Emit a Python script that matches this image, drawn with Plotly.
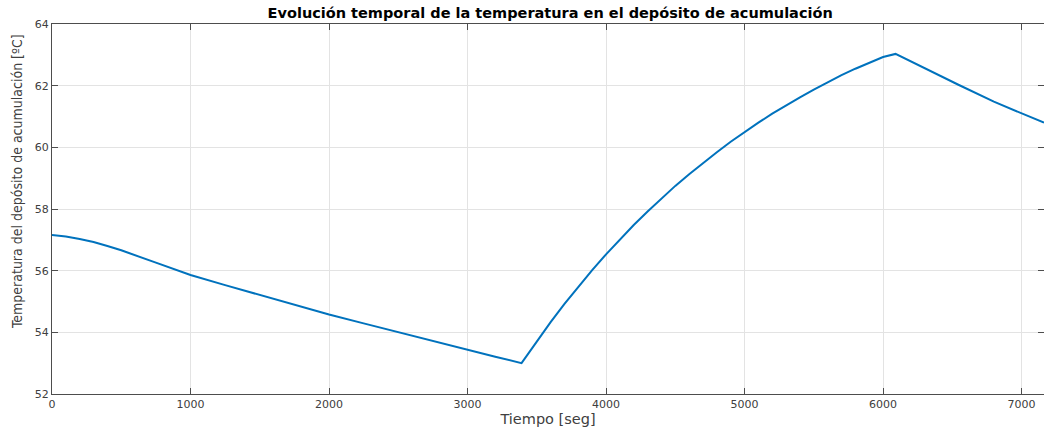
import plotly.graph_objects as go

# Tank temperature over time: cooling, heating, cooling again
tiempo = [0, 100, 200, 300, 400, 500, 750, 1000, 1250, 1500, 1750, 2000, 2250, 2500,
          2750, 3000, 3200, 3390,
          3500, 3600, 3700, 3800, 3900, 4000, 4100, 4200, 4300, 4400, 4500,
          4600, 4700, 4800, 4900, 5000, 5100, 5200, 5300, 5400, 5500, 5600,
          5700, 5800, 5900, 6000, 6090,
          6300, 6544, 6800, 7000, 7162]
temperatura = [57.16, 57.11, 57.03, 56.93, 56.80, 56.66, 56.26, 55.86, 55.53, 55.21,
               54.89, 54.58, 54.29, 54.00, 53.71, 53.43, 53.21, 53.00,
               53.71, 54.33, 54.92, 55.48, 56.02, 56.53, 57.02, 57.48, 57.92, 58.35,
               58.75, 59.13, 59.50, 59.84, 60.18, 60.50, 60.80, 61.09, 61.36, 61.62,
               61.87, 62.11, 62.34, 62.55, 62.75, 62.93, 63.03,
               62.56, 62.03, 61.48, 61.10, 60.80]

x_ticks = [0, 1000, 2000, 3000, 4000, 5000, 6000, 7000]
y_ticks = [52, 54, 56, 58, 60, 62, 64]
x_range = [0, 7162]
y_range = [52, 64]

titulo = "Evolución temporal de la temperatura en el depósito de acumulación"
etiqueta_x = "Tiempo [seg]"
etiqueta_y = "Temperatura del depósito de acumulación [ºC]"

axis_color = "#4d4d4d"
grid_color = "#e3e3e3"
label_color = "#404040"

fig = go.Figure()
fig.add_trace(go.Scatter(
    x=tiempo, y=temperatura, mode="lines",
    line=dict(color="#0072BD", width=2),
    showlegend=False, hoverinfo="x+y",
))
# invisible trace to carry the right-hand tick marks
fig.add_trace(go.Scatter(x=[x_range[0]], y=[y_range[0]], yaxis="y2",
                         mode="markers", marker=dict(opacity=0),
                         showlegend=False, hoverinfo="skip"))

fig.update_layout(
    width=1044, height=432,
    margin=dict(l=52, r=0, t=24, b=38),
    paper_bgcolor="white", plot_bgcolor="white",
    title=dict(text="<b>" + titulo + "</b>", x=0.527, xanchor="center",
               y=0.97, yanchor="middle",
               font=dict(family="DejaVu Sans", size=14.5, color="#000000")),
    xaxis=dict(
        range=x_range, tickvals=x_ticks, ticktext=[str(v) for v in x_ticks],
        showgrid=True, gridcolor=grid_color, gridwidth=1,
        showline=True, linecolor=axis_color, linewidth=1, mirror="ticks",
        ticks="inside", ticklen=6, tickcolor=axis_color, zeroline=False,
        tickfont=dict(family="DejaVu Sans", size=11, color=label_color),
        title=dict(text=etiqueta_x, standoff=0,
                   font=dict(family="DejaVu Sans", size=14.5, color=label_color)),
    ),
    yaxis=dict(
        range=y_range, tickvals=y_ticks, ticktext=[str(v) for v in y_ticks],
        showgrid=True, gridcolor=grid_color, gridwidth=1,
        showline=True, linecolor=axis_color, linewidth=1,
        ticks="inside", ticklen=6, tickcolor=axis_color, zeroline=False,
        tickfont=dict(family="DejaVu Sans", size=11, color=label_color),
    ),
    yaxis2=dict(
        range=y_range, tickvals=y_ticks, overlaying="y", side="right",
        showgrid=False, showline=False, showticklabels=False, zeroline=False,
        ticks="inside", ticklen=6, tickcolor=axis_color,
    ),
    annotations=[dict(
        text=etiqueta_y, textangle=-90, showarrow=False,
        xref="paper", yref="paper", x=-0.0355, y=0.575,
        xanchor="center", yanchor="middle",
        font=dict(family="DejaVu Sans Condensed", size=14, color=label_color),
    )],
)

fig.write_html("out.html")
